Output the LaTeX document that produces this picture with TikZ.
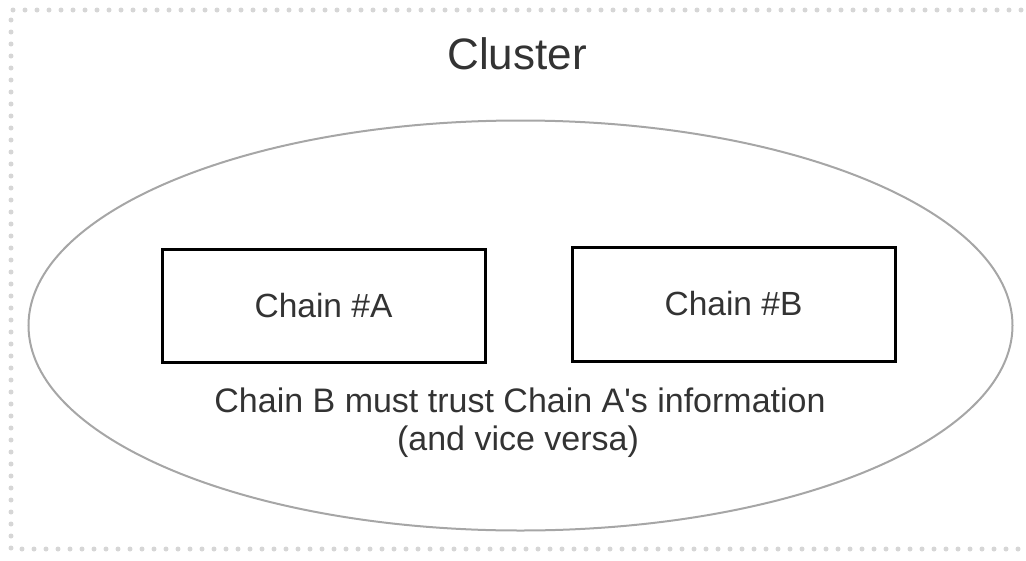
\documentclass[tikz,border=0pt]{standalone}
\usepackage{fontspec}
\setmainfont{Liberation Sans}
\usetikzlibrary{shapes.geometric}
\definecolor{txt}{HTML}{333333}
\definecolor{dotgray}{HTML}{D6D6D6}
\definecolor{ellgray}{HTML}{A6A6A6}
\tikzset{
  chainbox/.style={draw=black, line width=3pt, minimum width=323pt, minimum height=113pt, inner sep=0pt, font=\fontsize{33.5}{38}\selectfont, text=txt},
  frame/.style={dotgray, line width=5pt, line cap=round, dash pattern=on 0pt off 12pt},
  lbl/.style={text=txt, align=center, inner sep=0pt},
}
\begin{document}
\begin{tikzpicture}[x=1pt,y=-1pt]
\useasboundingbox (0,0) rectangle (1026,560);
% dotted frame (right side cut off)
\draw[frame] (1021,10) -- (11,10) -- (11,549) -- (1021,549);
% cluster ellipse
\node[draw=ellgray, line width=2pt, ellipse, minimum width=984pt, minimum height=410pt, inner sep=0pt] (cluster) at (520.5,325.5) {};
\node[lbl, font=\fontsize{44}{50}\selectfont, anchor=base] (title) at (517,69) {Cluster};
% chains
\node[chainbox] (chainA) at (323.5,305.5) {Chain \#A};
\node[chainbox, minimum height=114pt] (chainB) at (733.5,304) {Chain \#B};
% caption
\node[lbl, font=\fontsize{34}{38}\selectfont, anchor=base] (cap1) at (520,412) {Chain B must trust Chain A\textquotesingle s information};
\node[lbl, font=\fontsize{34}{38}\selectfont, anchor=base] (cap2) at (518,450) {(and vice versa)};
\end{tikzpicture}
\end{document}
